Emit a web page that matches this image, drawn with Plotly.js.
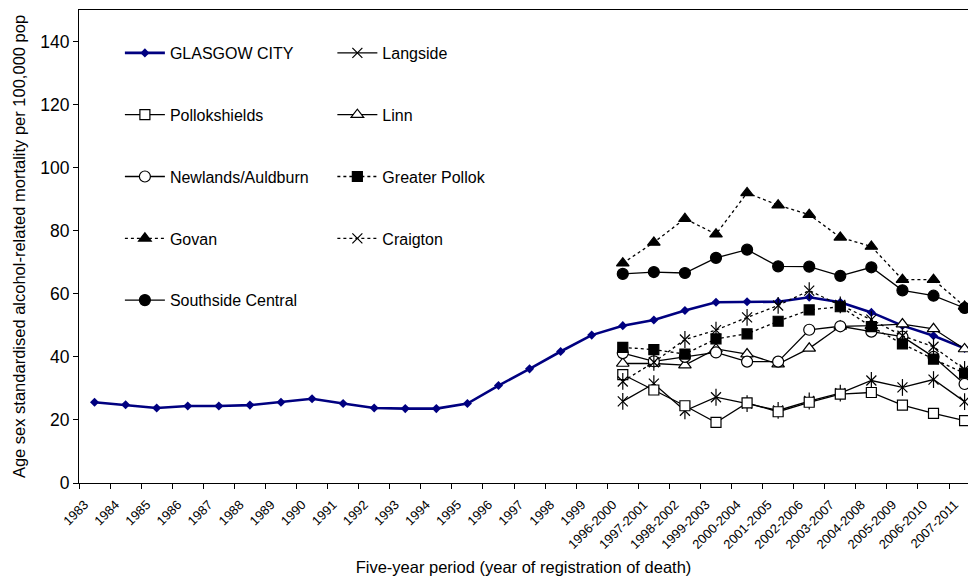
<!DOCTYPE html>
<html>
<head>
<meta charset="utf-8">
<script src="https://cdn.plot.ly/plotly-3.0.1.min.js"></script>
<style>html,body{margin:0;padding:0;background:#fff;}#chart{width:968px;height:580px;}</style>
</head>
<body>
<div id="chart"></div>
<script>
// Categories
const years = ['1983','1984','1985','1986','1987','1988','1989','1990','1991','1992','1993','1994','1995','1996','1997','1998','1999'];
const periods = ['1996-2000','1997-2001','1998-2002','1999-2003','2000-2004','2001-2005','2002-2006','2003-2007','2004-2008','2005-2009','2006-2010','2007-2011'];
const allCategories = years.concat(periods);

// Glasgow City (single years then five-year periods)
const glasgowCity = [25.6, 24.8, 23.8, 24.4, 24.4, 24.7, 25.6, 26.7, 25.2, 23.8, 23.6, 23.6, 25.2, 30.9, 36.2, 41.7, 46.9,
                     49.9, 51.7, 54.7, 57.3, 57.5, 57.5, 58.9, 57.3, 54.1, 49.9, 46.7, 42.7];
// Districts (five-year periods)
const langside        = [25.9, 31.5, 22.9, 27.2, 25.2, 23.0, 26.0, 28.5, 32.5, 30.3, 32.8, 25.8];
const pollokshields   = [34.4, 29.5, 24.5, 19.2, 25.4, 22.6, 25.6, 28.2, 28.7, 24.7, 22.1, 19.8];
const linn            = [37.9, 37.9, 37.4, 42.5, 40.9, 37.7, 42.7, 49.7, 49.9, 50.4, 48.9, 42.5];
const newlands        = [41.2, 38.6, 40.0, 41.4, 38.5, 38.5, 48.6, 49.7, 48.0, 46.4, 40.0, 31.4];
const greaterPollok   = [43.0, 42.3, 40.9, 45.7, 47.3, 51.3, 54.9, 55.9, 49.6, 44.1, 39.3, 34.8];
const govan           = [69.7, 76.3, 83.8, 78.9, 92.0, 88.1, 85.1, 77.9, 75.0, 64.5, 64.5, 56.0];
const craigton        = [32.2, 38.3, 45.5, 48.5, 52.5, 56.3, 61.0, 56.5, 51.8, 46.7, 43.2, 36.0];
const southsideCentral= [66.3, 66.9, 66.6, 71.4, 74.0, 68.7, 68.6, 65.7, 68.4, 61.1, 59.4, 55.5];

const names = {
  glasgow: 'GLASGOW CITY', langside: 'Langside', pollokshields: 'Pollokshields', linn: 'Linn',
  newlands: 'Newlands/Auldburn', greaterPollok: 'Greater Pollok', govan: 'Govan',
  craigton: 'Craigton', southside: 'Southside Central'
};

function series(name, x, y, opts) {
  return {
    type: 'scatter', mode: 'lines+markers', name: name, x: x, y: y,
    legendgroup: name, cliponaxis: false,
    line: {color: '#000000', width: 1.3, dash: opts.dash || 'solid'},
    marker: {symbol: opts.symbol, size: opts.size || 10,
             color: opts.fill || '#000000',
             line: {color: '#000000', width: 1.2}},
    legend: opts.legend
  };
}
function starArm(name, y, legend) {
  return {
    type: 'scatter', mode: 'markers', x: periods, y: y, name: name,
    legendgroup: name, showlegend: false, legend: legend, cliponaxis: false,
    marker: {symbol: 'line-ns-open', size: 12, color: '#000000', line: {color: '#000000', width: 1.2}},
    hoverinfo: 'skip'
  };
}

const traces = [
  {
    type: 'scatter', mode: 'lines+markers', name: names.glasgow, x: allCategories, y: glasgowCity,
    legendgroup: names.glasgow, legend: 'legend', cliponaxis: false,
    line: {color: '#000080', width: 2.6},
    marker: {symbol: 'diamond', size: 7, color: '#000080', line: {width: 0}}
  },
  series(names.langside, periods, langside, {symbol: 'x-thin-open', size: 10, legend: 'legend2'}),
  starArm(names.langside, langside, 'legend2'),
  series(names.pollokshields, periods, pollokshields, {symbol: 'square', size: 10, fill: '#ffffff', legend: 'legend'}),
  series(names.linn, periods, linn, {symbol: 'triangle-up', size: 11, fill: '#ffffff', legend: 'legend2'}),
  series(names.newlands, periods, newlands, {symbol: 'circle', size: 11, fill: '#ffffff', legend: 'legend'}),
  series(names.greaterPollok, periods, greaterPollok, {symbol: 'square', size: 10, dash: 'dot', legend: 'legend2'}),
  series(names.govan, periods, govan, {symbol: 'triangle-up', size: 11, dash: 'dot', legend: 'legend'}),
  series(names.craigton, periods, craigton, {symbol: 'x-thin-open', size: 10, dash: 'dot', legend: 'legend2'}),
  starArm(names.craigton, craigton, 'legend2'),
  series(names.southside, periods, southsideCentral, {symbol: 'circle', size: 11, legend: 'legend'})
];

const baseFont = {family: '"Liberation Sans", Arial, sans-serif', color: '#000000'};
const legendCommon = {
  font: Object.assign({}, baseFont, {size: 16}),
  bgcolor: 'rgba(0,0,0,0)', borderwidth: 0,
  orientation: 'v', xanchor: 'left', yanchor: 'top',
  tracegroupgap: 38, itemwidth: 40, traceorder: 'grouped'
};

const layout = {
  width: 968, height: 580,
  margin: {l: 79, r: 0, t: 10, b: 97},
  paper_bgcolor: '#ffffff', plot_bgcolor: '#ffffff',
  font: baseFont,
  showlegend: true,
  xaxis: {
    type: 'category', categoryorder: 'array', categoryarray: allCategories,
    range: [-0.5, 28.11],
    showline: true, linecolor: '#000000', linewidth: 1, mirror: true,
    ticks: 'outside', tickson: 'boundaries', ticklen: 5, tickcolor: '#000000', tickwidth: 1,
    tickangle: -45, ticklabelstandoff: 8, ticklabelshift: -10,
    tickfont: Object.assign({}, baseFont, {size: 13}),
    showgrid: false, zeroline: false,
    title: {text: 'Five-year period (year of registration of death)', font: Object.assign({}, baseFont, {size: 16.5}), standoff: 10}
  },
  yaxis: {
    range: [0, 150], dtick: 20, tick0: 0,
    showline: true, linecolor: '#000000', linewidth: 1,
    ticks: 'outside', ticklen: 5, tickcolor: '#000000', tickwidth: 1,
    tickfont: Object.assign({}, baseFont, {size: 17.5}),
    showgrid: false, zeroline: false,
    title: {text: 'Age sex standardised alcohol-related mortality per 100,000 pop', font: Object.assign({}, baseFont, {size: 16.5}), standoff: 10}
  },
  legend: Object.assign({}, legendCommon, {x: 0.046, y: 0.945}),
  legend2: Object.assign({}, legendCommon, {x: 0.285, y: 0.945})
};

Plotly.newPlot('chart', traces, layout, {displayModeBar: false, staticPlot: true});
</script>
</body>
</html>
